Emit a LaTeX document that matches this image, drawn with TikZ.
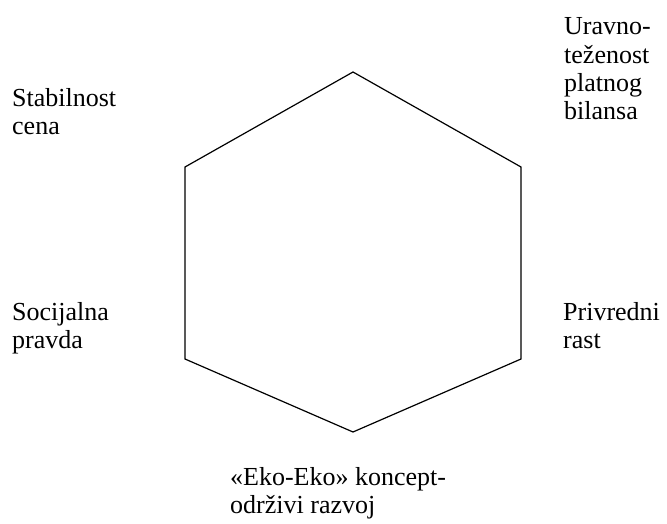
\documentclass[tikz,border=0pt]{standalone}
\usepackage{fontspec}
\setmainfont{Liberation Serif}
\newcommand{\twolines}[2]{\vtop{\baselineskip=28pt\hbox{#1}\hbox{#2}}}
\newcommand{\fourlines}[4]{\vtop{\baselineskip=28.3pt\hbox{#1}\hbox{#2}\hbox{#3}\hbox{#4}}}
\begin{document}
\begin{tikzpicture}[x=1pt,y=-1pt,
  lbl/.style={anchor=base west,inner sep=0pt,font=\fontsize{26}{28}\selectfont},
  hexline/.style={draw=black,line width=1.2pt,line join=miter}]
\useasboundingbox (0,0) rectangle (667,524);
\coordinate (t) at (353,72);
\coordinate (ur) at (521,167);
\coordinate (lr) at (521,359);
\coordinate (b) at (353,432);
\coordinate (ll) at (185,359);
\coordinate (ul) at (185,167);
\draw[hexline] (t) -- (ur) -- (lr) -- (b) -- (ll) -- (ul) -- cycle;
\node[lbl] (stab) at (12,107) {\twolines{Stabilnost}{cena}};
\node[lbl] (urav) at (564,35) {\fourlines{Uravno-}{teženost}{platnog}{bilansa}};
\node[lbl] (soc) at (12,320) {\twolines{Socijalna}{pravda}};
\node[lbl] (priv) at (563,320) {\twolines{Privredni}{rast}};
\node[lbl] (eko) at (230,485) {\twolines{«Eko-Eko» koncept-}{održivi razvoj}};
\end{tikzpicture}
\end{document}
